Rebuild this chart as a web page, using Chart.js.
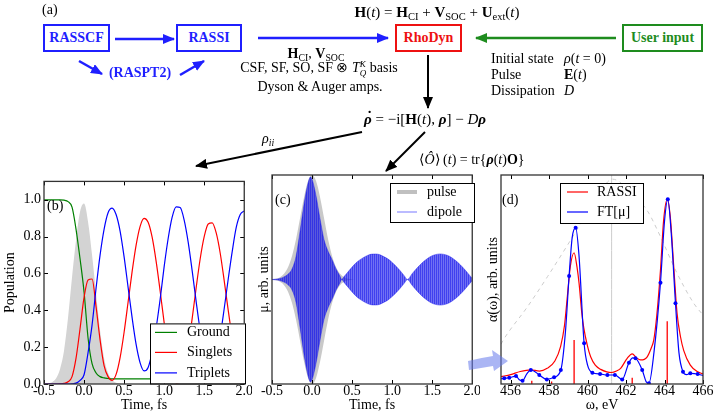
<!DOCTYPE html>
<html>
<head>
<meta charset="utf-8">
<script src="https://cdn.jsdelivr.net/npm/chart.js@4.4.0/dist/chart.umd.min.js"></script>
<style>
  body { margin: 0; background: #fff; }
  #fig { position: relative; width: 716px; height: 420px; overflow: hidden; font-family: "Liberation Serif", serif; }
  .t { position: absolute; white-space: nowrap; font-size: 14px; line-height: 1; transform: translate(-50%, -50%); color: #000; }
  .l { transform: translate(0, -50%); }
  .box { position: absolute; box-sizing: border-box; border: 2px solid; font-weight: bold; font-size: 14px; display: flex; align-items: center; justify-content: center; background: #fff; }
  sub, sup { font-size: 70%; line-height: 0; }
  sub { vertical-align: -0.3em; }
  .st { display: inline-flex; flex-direction: column; font-size: 9px; line-height: 9px; vertical-align: middle; font-style: italic; }
  .dot { position: relative; display: inline-block; }
  .dot::after { content: "˙"; position: absolute; left: 0.15em; top: -0.2em; font-weight: bold; }
  canvas { position: absolute; }
  svg { position: absolute; left: 0; top: 0; }
</style>
</head>
<body>
<div id="fig">
  <canvas id="popChart" width="252" height="250" style="left:0;top:170px"></canvas>
  <canvas id="dipChart" width="228" height="250" style="left:252px;top:170px"></canvas>
  <canvas id="specChart" width="236" height="250" style="left:480px;top:170px"></canvas>

  <svg width="716" height="420">
    <defs>
      <marker id="hb" markerWidth="12" markerHeight="10" refX="11" refY="5" orient="auto" markerUnits="userSpaceOnUse"><path d="M0,0 L12,5 L0,10 z" fill="#1f1fff"/></marker>
      <marker id="hg" markerWidth="12" markerHeight="10" refX="11" refY="5" orient="auto" markerUnits="userSpaceOnUse"><path d="M0,0 L12,5 L0,10 z" fill="#1e8c1e"/></marker>
      <marker id="hk" markerWidth="12" markerHeight="10" refX="11" refY="5" orient="auto" markerUnits="userSpaceOnUse"><path d="M0,0 L12,5 L0,10 z" fill="#000"/></marker>
    </defs>
    <line x1="115" y1="39" x2="174" y2="39" stroke="#1f1fff" stroke-width="2.5" marker-end="url(#hb)"/>
    <line x1="79" y1="61" x2="102" y2="74" stroke="#1f1fff" stroke-width="2.5" marker-end="url(#hb)"/>
    <line x1="180" y1="75" x2="204" y2="61" stroke="#1f1fff" stroke-width="2.5" marker-end="url(#hb)"/>
    <line x1="258" y1="38" x2="388" y2="38" stroke="#1f1fff" stroke-width="2.5" marker-end="url(#hb)"/>
    <line x1="616" y1="38" x2="476" y2="38" stroke="#1e8c1e" stroke-width="2.5" marker-end="url(#hg)"/>
    <line x1="428" y1="55" x2="428" y2="108" stroke="#000" stroke-width="2" marker-end="url(#hk)"/>
    <line x1="362" y1="132" x2="196" y2="166" stroke="#000" stroke-width="2" marker-end="url(#hk)"/>
    <line x1="425" y1="132" x2="386" y2="171" stroke="#000" stroke-width="2" marker-end="url(#hk)"/>
    <path d="M468,361 Q480,358 493,356 L492,350 L508,361 L494,371 L493,366 Q481,368 469,370 Z" fill="rgba(100,120,235,0.55)"/>
  </svg>

  <div class="t l" style="left:42px;top:10px">(a)</div>
  <div class="t" style="left:437px;top:12px;font-size:15px"><b>H</b>(<i>t</i>) = <b>H</b><sub>CI</sub> + <b>V</b><sub>SOC</sub> + <b>U</b><sub>ext</sub>(<i>t</i>)</div>

  <div class="box" style="left:43px;top:24px;width:67px;height:28px;color:#1f1fff;border-color:#1f1fff">RASSCF</div>
  <div class="box" style="left:176px;top:24px;width:66px;height:28px;color:#1f1fff;border-color:#1f1fff">RASSI</div>
  <div class="box" style="left:395px;top:24px;width:67px;height:28px;color:#ee1111;border-color:#ee1111">RhoDyn</div>
  <div class="box" style="left:622px;top:24px;width:81px;height:28px;color:#1e8c1e;border-color:#1e8c1e">User input</div>
  <div class="t" style="left:140px;top:73px;font-weight:bold;color:#1f1fff">(RASPT2)</div>

  <div class="t" style="left:316px;top:54px"><b>H</b><sub>CI</sub>, <b>V</b><sub>SOC</sub></div>
  <div class="t" style="left:319px;top:69px">CSF, SF, SO, SF ⊗ <i>T</i><span class="st"><span>K</span><span>Q</span></span> basis</div>
  <div class="t" style="left:320px;top:87px">Dyson &amp; Auger amps.</div>

  <div class="t l" style="left:491px;top:59px">Initial state</div>
  <div class="t l" style="left:564px;top:59px"><i>ρ</i>(<i>t</i> = 0)</div>
  <div class="t l" style="left:491px;top:75px">Pulse</div>
  <div class="t l" style="left:564px;top:75px"><b>E</b>(<i>t</i>)</div>
  <div class="t l" style="left:491px;top:91px">Dissipation</div>
  <div class="t l" style="left:564px;top:91px"><i>D</i></div>

  <div class="t" style="left:425px;top:119px;font-size:15px"><b><i class="dot">ρ</i></b> = −i[<b>H</b>(<i>t</i>), <b><i>ρ</i></b>] − <i>D</i><b><i>ρ</i></b></div>
  <div class="t l" style="left:262px;top:139px"><i>ρ</i><sub><i>ii</i></sub></div>
  <div class="t" style="left:472px;top:160px">⟨<i>Ô</i>⟩ (<i>t</i>) = tr{<b><i>ρ</i></b>(<i>t</i>)<b>O</b>}</div>
</div>

<script>
// panel (b): populations
const timeB = [-0.5, -0.45, -0.4, -0.35, -0.3, -0.25, -0.2, -0.15, -0.1, -0.05, 0, 0.05, 0.1, 0.15, 0.2, 0.25, 0.3,
  0.35, 0.4, 0.45, 0.5, 0.55, 0.6, 0.65, 0.7, 0.75, 0.8, 0.85, 0.9, 0.95, 1.0, 1.05, 1.1, 1.15, 1.2, 1.25, 1.3,
  1.35, 1.4, 1.45, 1.5, 1.55, 1.6, 1.65, 1.7, 1.75, 1.8, 1.85, 1.9, 1.95, 2.0];
const ground = [1, 1, 1, 1, 1, 0.998, 0.99, 0.96, 0.84, 0.68, 0.5, 0.25, 0.11, 0.06, 0.04, 0.033, 0.03,
  0.028, 0.028, 0.028, 0.028, 0.028, 0.028, 0.028, 0.028, 0.028, 0.028,
  0.028, 0.028, 0.028, 0.028, 0.028, 0.028, 0.028, 0.028, 0.028, 0.028,
  0.028, 0.028, 0.028, 0.028, 0.028, 0.028, 0.028, 0.028, 0.028, 0.028,
  0.028, 0.028, 0.028, 0.028];
const singlets = [0, 0, 0, 0, 0.001, 0.003, 0.012, 0.04, 0.14, 0.3, 0.47, 0.565, 0.57, 0.42, 0.24, 0.1, 0.04,
  0.02, 0.052, 0.143, 0.281, 0.445, 0.61, 0.754, 0.856, 0.899, 0.878,
  0.797, 0.666, 0.505, 0.333, 0.179, 0.064, 0.005, 0.012, 0.08, 0.2,
  0.356, 0.524, 0.68, 0.8, 0.869, 0.875, 0.82, 0.71, 0.56, 0.4,
  0.25, 0.12, 0.04, 0.02];
const triplets = [0, 0, 0, 0, 0, 0, 0, 0.001, 0.005, 0.02, 0.05, 0.17, 0.32, 0.52, 0.7, 0.84, 0.93,
  0.955, 0.92, 0.83, 0.69, 0.525, 0.36, 0.215, 0.115, 0.071, 0.09,
  0.173, 0.304, 0.46, 0.637, 0.79, 0.906, 0.962, 0.958, 0.89, 0.77,
  0.614, 0.446, 0.29, 0.17, 0.105, 0.097, 0.15, 0.26, 0.41, 0.57,
  0.72, 0.85, 0.92, 0.94];
const pulseB = [0.001, 0.003, 0.01, 0.03, 0.08, 0.18, 0.36, 0.58, 0.78, 0.935, 0.98, 0.88, 0.7, 0.49, 0.29, 0.14, 0.06,
  0.022, 0.007, 0.002, 0, 0, 0, 0, 0, 0, 0,
  0, 0, 0, 0, 0, 0, 0, 0, 0, 0,
  0, 0, 0, 0, 0, 0, 0, 0, 0, 0,
  0, 0, 0, 0];

// panel (c): pulse and dipole envelopes
const pulseC = [0.003, 0.008, 0.022, 0.054, 0.117, 0.226, 0.386, 0.585, 0.788, 0.942, 1, 0.942, 0.788, 0.585, 0.386, 0.226, 0.117,
  0.054, 0.022, 0.008, 0.003, 0, 0, 0, 0, 0, 0,
  0, 0, 0, 0, 0, 0, 0, 0, 0, 0,
  0, 0, 0, 0, 0, 0, 0, 0, 0, 0,
  0, 0, 0, 0];
const dipoleT = [-0.5, -0.45, -0.4, -0.35, -0.3, -0.25, -0.2, -0.15, -0.1, -0.05,
  -0.02, 0, 0.05, 0.1, 0.15, 0.2, 0.25, 0.3, 0.35, 0.37,
  0.4, 0.45, 0.5, 0.55, 0.6, 0.65, 0.7, 0.75, 0.8, 0.85,
  0.9, 0.95, 1.0, 1.05, 1.1, 1.15, 1.19, 1.25, 1.3, 1.35,
  1.4, 1.45, 1.5, 1.55, 1.6, 1.65, 1.7, 1.75, 1.8, 1.85,
  1.9, 1.95, 2.0];
const dipoleEnv = [0, 0.003, 0.01, 0.025, 0.05, 0.1, 0.22, 0.46, 0.72, 0.92,
  0.98, 0.96, 0.8, 0.58, 0.38, 0.27, 0.19, 0.1, 0.03, 0,
  0.028, 0.074, 0.119, 0.16, 0.19, 0.214, 0.233, 0.243, 0.244, 0.236,
  0.217, 0.195, 0.163, 0.126, 0.084, 0.037, 0, 0.056, 0.101, 0.141,
  0.177, 0.206, 0.228, 0.24, 0.245, 0.24, 0.228, 0.206, 0.177, 0.141,
  0.101, 0.056, 0.01];

// panel (d): spectra
const redE = [455.5, 456, 456.5, 457.05, 457.5, 457.9, 458.3, 458.6, 458.8, 458.95,
  459.1, 459.3, 459.45, 459.56, 459.7, 459.8, 460, 460.16, 460.4, 460.68,
  461, 461.25, 461.5, 461.72, 462.06, 462.32, 462.55, 462.75, 462.95, 463.1,
  463.3, 463.44, 463.6, 463.79, 463.95, 464.14, 464.3, 464.48, 464.65, 464.83,
  465, 465.34, 465.7, 466];
const redY = [0.035, 0.045, 0.06, 0.068, 0.062, 0.075, 0.11, 0.18, 0.28, 0.42,
  0.56, 0.628, 0.56, 0.48, 0.34, 0.27, 0.18, 0.13, 0.09, 0.07,
  0.058, 0.055, 0.062, 0.075, 0.123, 0.144, 0.125, 0.115, 0.118, 0.13,
  0.17, 0.21, 0.33, 0.545, 0.78, 0.884, 0.8, 0.56, 0.34, 0.226,
  0.16, 0.09, 0.06, 0.048];
const ftE = [455.5, 455.67, 455.93, 456.28, 456.45, 456.62, 456.85, 457.05, 457.25, 457.49,
  457.88, 458.26, 458.61, 458.85, 459.04, 459.2, 459.38, 459.55, 459.82, 460,
  460.25, 460.65, 461.03, 461.42, 461.8, 462.15, 462.35, 462.49, 462.84, 463.05,
  463.19, 463.45, 463.79, 464, 464.17, 464.35, 464.57, 464.75, 464.96, 465.15,
  465.34, 465.72, 466];
const ftY = [0.025, 0.027, 0.03, 0.038, 0.02, 0.016, 0.05, 0.067, 0.06, 0.043,
  0.022, 0.032, 0.067, 0.25, 0.517, 0.7, 0.748, 0.62, 0.195, 0.09,
  0.054, 0.048, 0.043, 0.043, 0.022, 0.102, 0.125, 0.123, 0.067, 0.01,
  0.003, 0.15, 0.485, 0.78, 0.884, 0.72, 0.386, 0.15, 0.059, 0.045,
  0.051, 0.048, 0.04];
const dotE = [455.67, 455.93, 456.28, 456.62, 457.05, 457.49, 457.88, 458.26, 458.61, 459.04,
  459.38, 459.82, 460.25, 460.65, 461.03, 461.42, 461.8, 462.15, 462.49, 462.84,
  463.19, 463.79, 464.17, 464.57, 464.96, 465.34, 465.72];
const dotY = [0.027, 0.03, 0.038, 0.016, 0.067, 0.043, 0.022, 0.032, 0.067, 0.517,
  0.748, 0.195, 0.054, 0.048, 0.043, 0.043, 0.022, 0.102, 0.123, 0.067,
  0.003, 0.485, 0.884, 0.386, 0.059, 0.051, 0.048];
const stickE = [457.1, 458.13, 459.3, 462.32, 464.14];
const stickH = [0.016, 0.012, 0.21, 0.03, 0.3];
const specE = [455.5, 455.67, 456.88, 457.92, 459.13, 460.34, 461.3, 462.41, 463.1, 463.79, 464.65, 465.52, 466];
const specY = [0.19, 0.218, 0.37, 0.514, 0.69, 0.87, 0.98, 0.9, 0.83, 0.705, 0.53, 0.386, 0.33];
const centerE = 461.25;

Chart.defaults.font.family = '"Liberation Serif", serif';
Chart.defaults.font.size = 14;
Chart.defaults.color = '#000';

const pts = (xs, ys) => xs.map((x, i) => ({ x: x, y: ys[i] }));

// striped blue fill, a stand-in for the dense oscillations of the dipole
function stripes() {
  const c = document.createElement('canvas');
  c.width = 2; c.height = 1;
  const g = c.getContext('2d');
  g.fillStyle = 'rgba(10,10,235,0.78)'; g.fillRect(0, 0, 1, 1);
  g.fillStyle = 'rgba(10,10,235,0.58)'; g.fillRect(1, 0, 1, 1);
  return g.createPattern(c, 'repeat');
}

// box, inward ticks, panel tag and a small legend drawn inside the axes
const frame = {
  id: 'frame',
  afterDraw(chart, args, o) {
    const { ctx, chartArea: a, scales: { x, y } } = chart;
    ctx.save();
    ctx.strokeStyle = '#000';
    ctx.lineWidth = 1;
    ctx.beginPath();
    x.ticks.forEach(t => {
      const p = Math.round(x.getPixelForValue(t.value)) + 0.5;
      ctx.moveTo(p, a.bottom); ctx.lineTo(p, a.bottom - 4);
      ctx.moveTo(p, a.top); ctx.lineTo(p, a.top + 4);
    });
    if (o.yTicks) {
      y.ticks.forEach(t => {
        const p = Math.round(y.getPixelForValue(t.value)) + 0.5;
        ctx.moveTo(a.left, p); ctx.lineTo(a.left + 4, p);
        ctx.moveTo(a.right, p); ctx.lineTo(a.right - 4, p);
      });
    }
    ctx.stroke();
    ctx.strokeStyle = '#333';
    ctx.lineWidth = 1.3;
    ctx.strokeRect(a.left, a.top, a.width, a.height);

    ctx.font = '14px "Liberation Serif"';
    ctx.fillStyle = '#000';
    ctx.textBaseline = 'middle';
    ctx.fillText(o.tag, a.left + o.tagX, a.top + 25);

    const L = o.legend;
    ctx.fillStyle = '#fff';
    ctx.fillRect(a.left + L.x, a.top + L.y, L.w, L.h);
    ctx.strokeStyle = '#000';
    ctx.lineWidth = 1;
    ctx.strokeRect(a.left + L.x + 0.5, a.top + L.y + 0.5, L.w, L.h);
    L.items.forEach((it, i) => {
      const yy = a.top + L.rows[i];
      ctx.strokeStyle = it.color;
      ctx.lineWidth = it.width;
      ctx.beginPath();
      ctx.moveTo(a.left + L.x0, yy);
      ctx.lineTo(a.left + L.x1, yy);
      ctx.stroke();
      ctx.fillStyle = '#000';
      ctx.fillText(chart.data.datasets[it.ds].label, a.left + L.tx, yy);
    });
    ctx.restore();
  }
};

function makePanel(id, datasets, xOpt, yOpt, frameOpt, pad) {
  return new Chart(document.getElementById(id), {
    type: 'line',
    data: { datasets: datasets },
    plugins: [frame],
    options: {
      responsive: false,
      animation: false,
      layout: { padding: pad },
      plugins: { legend: { display: false }, tooltip: { enabled: false }, frame: frameOpt },
      elements: {
        point: { radius: 0 },
        line: { borderWidth: 1.2, cubicInterpolationMode: 'monotone' }
      },
      scales: { x: xOpt, y: yOpt }
    }
  });
}

const timeAxis = {
  type: 'linear', min: -0.5, max: 2.0,
  grid: { display: false, drawTicks: false }, border: { display: false },
  ticks: { stepSize: 0.5, padding: -1, autoSkip: false, maxRotation: 0, includeBounds: false, callback: v => v.toFixed(1) },
  title: { display: true, text: 'Time, fs', padding: { top: 0, bottom: 6 } },
  afterFit: s => { s.height = 36; }
};

makePanel('popChart', [
  { label: 'Ground', data: pts(timeB, ground), borderColor: '#008000', order: 3 },
  { label: 'Singlets', data: pts(timeB, singlets), borderColor: '#ff0000', order: 2 },
  { label: 'Triplets', data: pts(timeB, triplets), borderColor: '#0000ff', order: 1 },
  { label: 'pulse', data: pts(timeB, pulseB), borderWidth: 0, fill: 'origin', backgroundColor: '#d3d3d3', order: 10 }
], timeAxis, {
  type: 'linear', min: 0, max: 1.1,
  grid: { display: false, drawTicks: false }, border: { display: false },
  ticks: { stepSize: 0.2, padding: 3, includeBounds: false, callback: v => v.toFixed(1) },
  title: { display: true, text: 'Population', padding: { top: 2 } },
  afterFit: s => { s.width = 44; }
}, {
  tag: '(b)', tagX: 3, yTicks: true,
  legend: { x: 106, y: 142, w: 95, h: 60, rows: [151, 171, 191.5], x0: 111, x1: 133, tx: 143,
    items: [{ ds: 0, color: '#008000', width: 1.2 }, { ds: 1, color: '#ff0000', width: 1.2 }, { ds: 2, color: '#0000ff', width: 1.2 }] }
}, { top: 5, right: 5, left: 0, bottom: 0 });

const blueFill = stripes();
makePanel('dipChart', [
  { label: 'pulse', data: pts(timeB, pulseC), borderWidth: 0, fill: '+1', backgroundColor: '#c9c9c9', order: 6 },
  { label: 'pulse-', data: pts(timeB, pulseC.map(v => -v)), borderWidth: 0, order: 7 },
  { label: 'dipole', data: pts(dipoleT, dipoleEnv), borderWidth: 0.6, borderColor: 'rgba(20,20,235,0.7)', fill: '+1', backgroundColor: blueFill, order: 1 },
  { label: 'dipole-', data: pts(dipoleT, dipoleEnv.map(v => -v)), borderWidth: 0.6, borderColor: 'rgba(20,20,235,0.7)', order: 2 }
], timeAxis, {
  type: 'linear', min: -1, max: 1,
  grid: { display: false, drawTicks: false }, border: { display: false },
  ticks: { display: false },
  title: { display: true, text: 'μ, arb. units', padding: { top: 3.6 } },
  afterFit: s => { s.width = 20; }
}, {
  tag: '(c)', tagX: 3, yTicks: false,
  legend: { x: 118, y: 8, w: 84, h: 39, rows: [17, 37], x0: 125, x1: 145, tx: 155,
    items: [{ ds: 0, color: '#c0c0c0', width: 4 }, { ds: 2, color: 'rgba(0,0,255,0.45)', width: 1.2 }] }
}, { top: 5, right: 5, left: 0, bottom: 0 });

makePanel('specChart', [
  { label: 'RASSI', data: pts(redE, redY), borderColor: '#ff0000', order: 3 },
  { label: 'FT[μ]', data: pts(ftE, ftY), borderColor: '#0000ff', order: 2 },
  { label: 'dots', data: pts(dotE, dotY), showLine: false, pointRadius: 2, pointBackgroundColor: '#0000ff', pointBorderWidth: 0, order: 1 },
  { label: 'sticks', data: stickE.flatMap((e, i) => [{ x: e, y: 0 }, { x: e, y: stickH[i] }, { x: e, y: null }]),
    borderColor: '#ff0000', borderWidth: 1.3, spanGaps: false, cubicInterpolationMode: 'default', tension: 0, order: 4 },
  { label: 'pulse spectrum', data: pts(specE, specY), borderColor: '#cccccc', borderWidth: 1, borderDash: [4, 4], order: 10 },
  { label: 'center', data: [{ x: centerE, y: 0 }, { x: centerE, y: 1 }], borderColor: '#cccccc', borderWidth: 1, order: 9 }
], {
  type: 'linear', min: 455.5, max: 466,
  grid: { display: false, drawTicks: false }, border: { display: false },
  ticks: { stepSize: 2, padding: -1, autoSkip: false, maxRotation: 0, includeBounds: false },
  title: { display: true, text: 'ω, eV', padding: { top: 0, bottom: 6 } },
  afterFit: s => { s.height = 36; }
}, {
  type: 'linear', min: 0, max: 1,
  grid: { display: false, drawTicks: false }, border: { display: false },
  ticks: { display: false },
  title: { display: true, text: 'α(ω), arb. units', padding: { top: 4.6 } },
  afterFit: s => { s.width = 21; }
}, {
  tag: '(d)', tagX: 1, yTicks: false,
  legend: { x: 59, y: 8, w: 83, h: 40, rows: [17, 37], x0: 66, x1: 87, tx: 96,
    items: [{ ds: 0, color: '#ff0000', width: 1.2 }, { ds: 1, color: '#0000ff', width: 1.2 }] }
}, { top: 5, right: 13, left: 0, bottom: 0 });
</script>
</body>
</html>
